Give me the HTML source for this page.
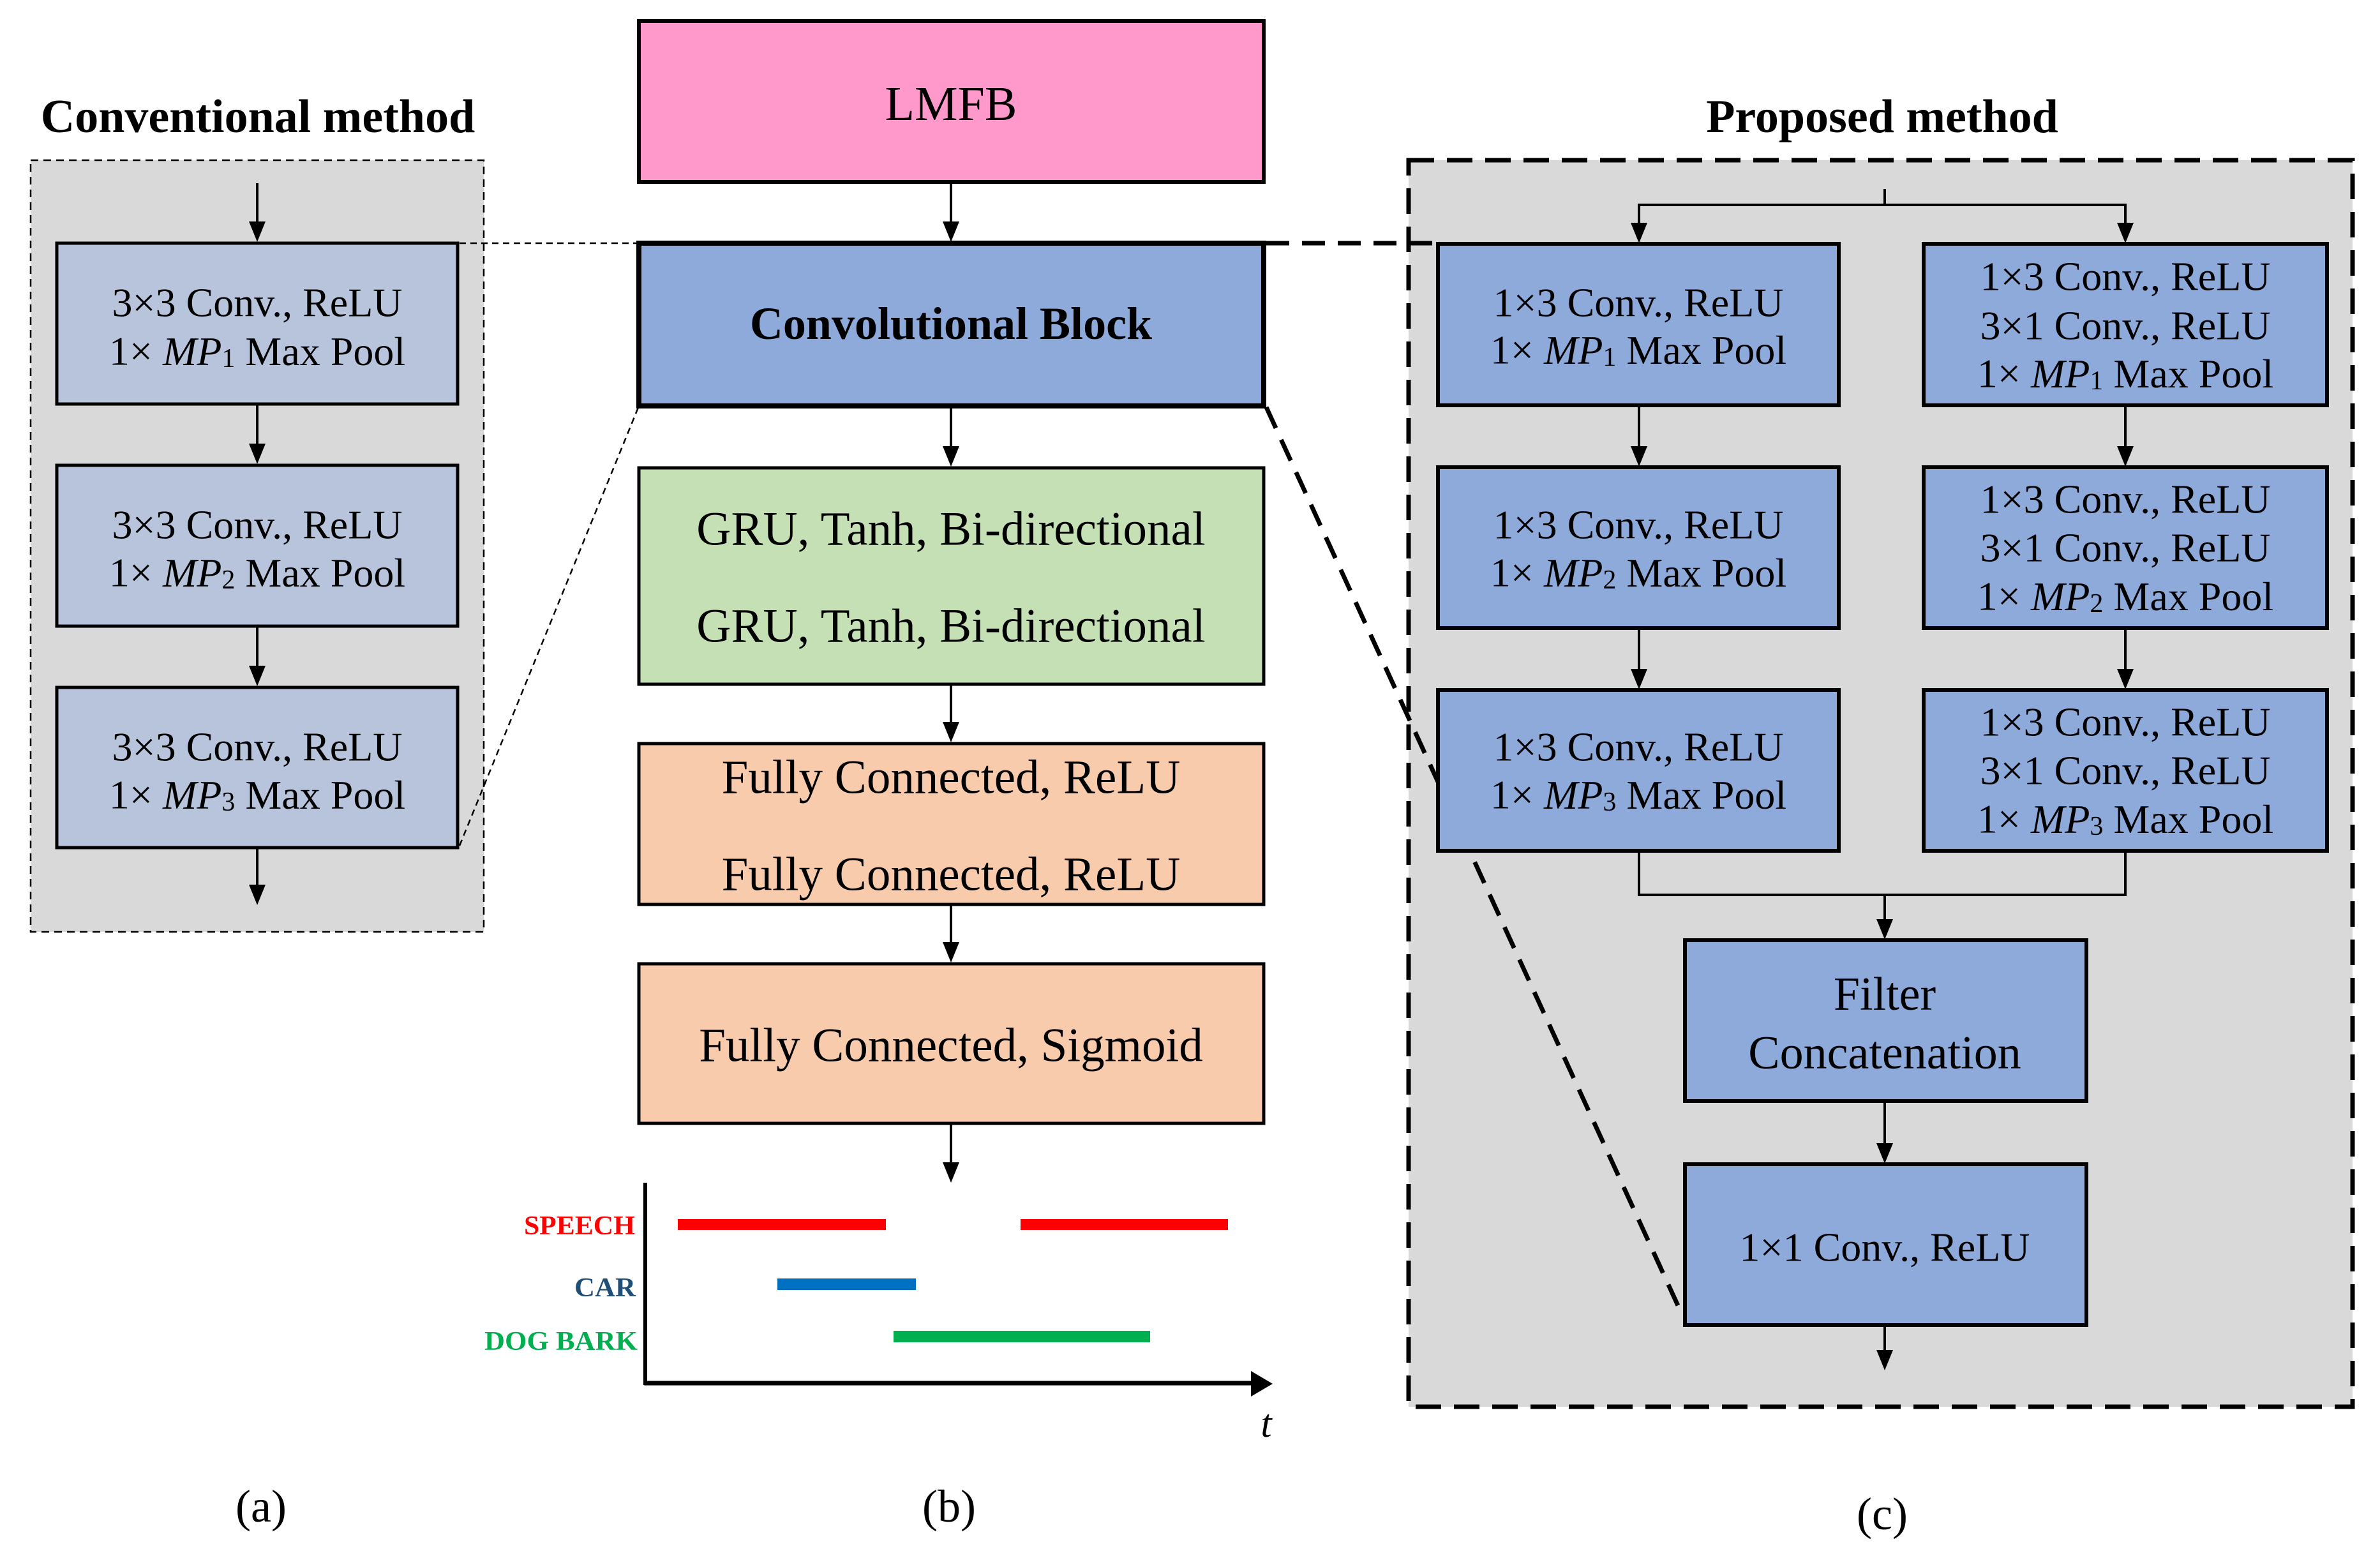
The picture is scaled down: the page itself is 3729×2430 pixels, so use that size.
<!DOCTYPE html>
<html><head><meta charset="utf-8"><style>html,body{margin:0;padding:0;background:#fff}svg{display:block;font-family:"Liberation Serif",serif}</style></head>
<body>
<svg width="3729" height="2430" viewBox="0 0 3729 2430" xmlns="http://www.w3.org/2000/svg">
<defs>
<g id="ah"><polygon points="-13,-32 13,-32 0,0" fill="#000"/></g>
</defs>
<rect width="3729" height="2430" fill="#fff"/>

<!-- (a) -->
<text x="404" y="183" font-size="74" font-weight="bold" text-anchor="middle" dominant-baseline="central">Conventional method</text>
<rect x="48" y="251" width="710" height="1209" fill="#d9d9d9" stroke="#000" stroke-width="2.5" stroke-dasharray="12,8"/>
<g stroke="#000" stroke-width="5" fill="#b8c4dc">
<rect x="89" y="381" width="628" height="252"/>
<rect x="89" y="729" width="628" height="252"/>
<rect x="89" y="1077" width="628" height="251"/>
</g>
<g stroke="#000" stroke-width="4">
<line x1="403" y1="287" x2="403" y2="352"/>
<line x1="403" y1="633" x2="403" y2="700"/>
<line x1="403" y1="981" x2="403" y2="1048"/>
<line x1="403" y1="1328" x2="403" y2="1388"/>
</g>
<use href="#ah" x="403" y="379"/><use href="#ah" x="403" y="727"/><use href="#ah" x="403" y="1075"/><use href="#ah" x="403" y="1418"/>
<g font-size="64" text-anchor="middle" dominant-baseline="central">
<text x="403" y="474">3×3 Conv., ReLU</text>
<text x="403" y="550">1× <tspan font-style="italic">MP</tspan><tspan font-size="42" dy="12">1</tspan><tspan dy="-12"> Max Pool</tspan></text>
<text x="403" y="822">3×3 Conv., ReLU</text>
<text x="403" y="897">1× <tspan font-style="italic">MP</tspan><tspan font-size="42" dy="12">2</tspan><tspan dy="-12"> Max Pool</tspan></text>
<text x="403" y="1170">3×3 Conv., ReLU</text>
<text x="403" y="1245">1× <tspan font-style="italic">MP</tspan><tspan font-size="42" dy="12">3</tspan><tspan dy="-12"> Max Pool</tspan></text>
</g>
<text x="409" y="2360" font-size="72" text-anchor="middle" dominant-baseline="central">(a)</text>

<g stroke="#000" stroke-width="2.5" stroke-dasharray="10,7" fill="none">
<line x1="720" y1="381" x2="1001" y2="381"/>
<line x1="720" y1="1325" x2="1001" y2="636"/>
</g>

<!-- (b) -->
<rect x="1001" y="33" width="979" height="252" fill="#ff99cc" stroke="#000" stroke-width="6"/>
<text x="1490" y="163" font-size="76" text-anchor="middle" dominant-baseline="central">LMFB</text>
<rect x="1001" y="381" width="979" height="255" fill="#8eaadb" stroke="#000" stroke-width="8"/>
<text x="1490" y="507" font-size="72" font-weight="bold" text-anchor="middle" dominant-baseline="central">Convolutional Block</text>
<rect x="1001" y="733" width="979" height="339" fill="#c5e0b4" stroke="#000" stroke-width="5"/>
<rect x="1001" y="1165" width="979" height="252" fill="#f8cbad" stroke="#000" stroke-width="5"/>
<rect x="1001" y="1510" width="979" height="250" fill="#f8cbad" stroke="#000" stroke-width="5"/>
<g font-size="75" text-anchor="middle" dominant-baseline="central">
<text x="1490" y="829">GRU, Tanh, Bi-directional</text>
<text x="1490" y="981">GRU, Tanh, Bi-directional</text>
<text x="1490" y="1218">Fully Connected, ReLU</text>
<text x="1490" y="1370">Fully Connected, ReLU</text>
<text x="1490" y="1638">Fully Connected, Sigmoid</text>
</g>
<g stroke="#000" stroke-width="4">
<line x1="1490" y1="285" x2="1490" y2="350"/>
<line x1="1490" y1="636" x2="1490" y2="702"/>
<line x1="1490" y1="1072" x2="1490" y2="1134"/>
<line x1="1490" y1="1417" x2="1490" y2="1479"/>
<line x1="1490" y1="1760" x2="1490" y2="1822"/>
</g>
<use href="#ah" x="1490" y="379"/><use href="#ah" x="1490" y="731"/><use href="#ah" x="1490" y="1163"/><use href="#ah" x="1490" y="1508"/><use href="#ah" x="1490" y="1853"/>

<line x1="1011" y1="1853" x2="1011" y2="2170" stroke="#000" stroke-width="6"/>
<line x1="1009" y1="2167" x2="1970" y2="2167" stroke="#000" stroke-width="7"/>
<polygon points="1960,2148 1994,2168 1960,2188" fill="#000"/>
<rect x="1062" y="1910" width="326" height="17" fill="#ff0000"/>
<rect x="1599" y="1910" width="325" height="17" fill="#ff0000"/>
<rect x="1218" y="2003" width="217" height="18" fill="#0070c0"/>
<rect x="1400" y="2085" width="402" height="18" fill="#00b050"/>
<g font-size="42" font-weight="bold" text-anchor="end" dominant-baseline="central">
<text x="995" y="1921" fill="#ff0000" textLength="174" lengthAdjust="spacingAndGlyphs">SPEECH</text>
<text x="996" y="2018" fill="#1f4e79" textLength="96" lengthAdjust="spacingAndGlyphs">CAR</text>
<text x="999" y="2102" fill="#00b050" textLength="240" lengthAdjust="spacingAndGlyphs">DOG BARK</text>
</g>
<text x="1984" y="2231" font-size="62" font-style="italic" text-anchor="middle" dominant-baseline="central">t</text>
<text x="1487" y="2360" font-size="72" text-anchor="middle" dominant-baseline="central">(b)</text>

<!-- (c) -->
<text x="2949" y="183" font-size="74" font-weight="bold" text-anchor="middle" dominant-baseline="central">Proposed method</text>
<rect x="2207" y="251" width="1479" height="1953" fill="#d9d9d9" stroke="#000" stroke-width="7" stroke-dasharray="40,20"/>
<g stroke="#000" stroke-width="7" stroke-dasharray="36,20" fill="none">
<line x1="1984" y1="381" x2="2253" y2="381"/>
<line x1="1984" y1="638" x2="2632" y2="2052"/>
</g>
<g stroke="#000" stroke-width="6" fill="#8eaadb">
<rect x="2253" y="382" width="628" height="253"/>
<rect x="2253" y="732" width="628" height="252"/>
<rect x="2253" y="1081" width="628" height="252"/>
<rect x="3014" y="382" width="632" height="253"/>
<rect x="3014" y="732" width="632" height="252"/>
<rect x="3014" y="1081" width="632" height="252"/>
<rect x="2640" y="1473" width="629" height="252"/>
<rect x="2640" y="1824" width="629" height="252"/>
</g>
<g stroke="#000" stroke-width="4" fill="none">
<polyline points="2953,296 2953,321"/>
<polyline points="2568,352 2568,321 3330,321 3330,352"/>
<line x1="2568" y1="635" x2="2568" y2="702"/>
<line x1="2568" y1="984" x2="2568" y2="1051"/>
<line x1="3330" y1="635" x2="3330" y2="702"/>
<line x1="3330" y1="984" x2="3330" y2="1051"/>
<polyline points="2568,1333 2568,1402 3330,1402 3330,1333"/>
<line x1="2953" y1="1402" x2="2953" y2="1443"/>
<line x1="2953" y1="1725" x2="2953" y2="1794"/>
<line x1="2953" y1="2076" x2="2953" y2="2115"/>
</g>
<use href="#ah" x="2568" y="381"/><use href="#ah" x="3330" y="381"/>
<use href="#ah" x="2568" y="731"/><use href="#ah" x="3330" y="731"/>
<use href="#ah" x="2568" y="1080"/><use href="#ah" x="3330" y="1080"/>
<use href="#ah" x="2953" y="1472"/><use href="#ah" x="2953" y="1823"/><use href="#ah" x="2953" y="2147"/>
<g font-size="64" text-anchor="middle" dominant-baseline="central">
<text x="2567" y="474">1×3 Conv., ReLU</text>
<text x="2567" y="548">1× <tspan font-style="italic">MP</tspan><tspan font-size="42" dy="12">1</tspan><tspan dy="-12"> Max Pool</tspan></text>
<text x="2567" y="822">1×3 Conv., ReLU</text>
<text x="2567" y="897">1× <tspan font-style="italic">MP</tspan><tspan font-size="42" dy="12">2</tspan><tspan dy="-12"> Max Pool</tspan></text>
<text x="2567" y="1170">1×3 Conv., ReLU</text>
<text x="2567" y="1245">1× <tspan font-style="italic">MP</tspan><tspan font-size="42" dy="12">3</tspan><tspan dy="-12"> Max Pool</tspan></text>
<text x="3330" y="433">1×3 Conv., ReLU</text>
<text x="3330" y="510">3×1 Conv., ReLU</text>
<text x="3330" y="585">1× <tspan font-style="italic">MP</tspan><tspan font-size="42" dy="12">1</tspan><tspan dy="-12"> Max Pool</tspan></text>
<text x="3330" y="782">1×3 Conv., ReLU</text>
<text x="3330" y="858">3×1 Conv., ReLU</text>
<text x="3330" y="934">1× <tspan font-style="italic">MP</tspan><tspan font-size="42" dy="12">2</tspan><tspan dy="-12"> Max Pool</tspan></text>
<text x="3330" y="1131">1×3 Conv., ReLU</text>
<text x="3330" y="1207">3×1 Conv., ReLU</text>
<text x="3330" y="1283">1× <tspan font-style="italic">MP</tspan><tspan font-size="42" dy="12">3</tspan><tspan dy="-12"> Max Pool</tspan></text>
<text x="2953" y="1558" font-size="74">Filter</text>
<text x="2953" y="1650" font-size="74">Concatenation</text>
<text x="2953" y="1954">1×1 Conv., ReLU</text>
</g>
<text x="2949" y="2372" font-size="72" text-anchor="middle" dominant-baseline="central">(c)</text>
</svg>
</body></html>
